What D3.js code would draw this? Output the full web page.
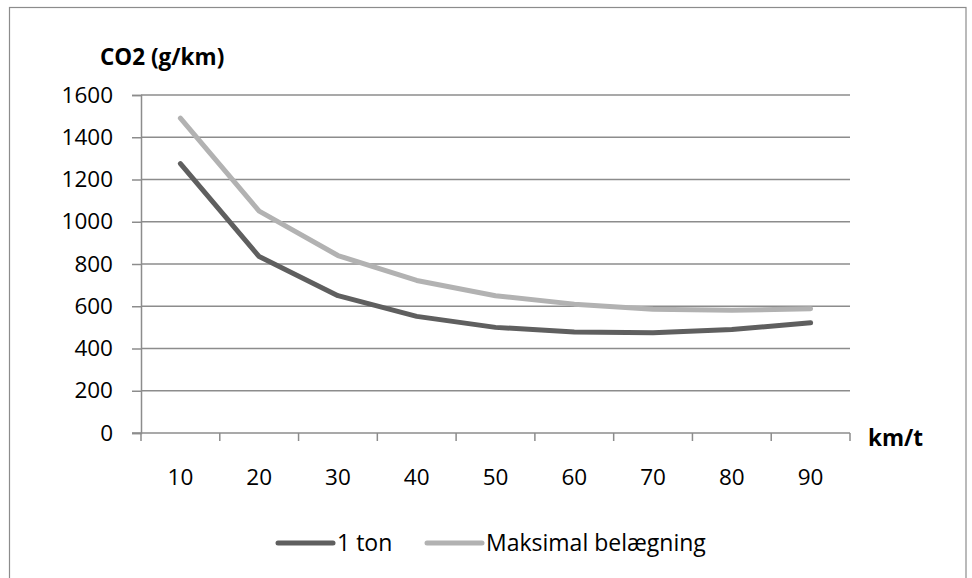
<!DOCTYPE html>
<html>
<head>
<meta charset="utf-8">
<script src="https://cdn.jsdelivr.net/npm/d3@7"></script>
<style>
  body { margin: 0; background: #fff; }
  svg { display: block; }
</style>
</head>
<body>
<svg id="chart" width="972" height="578"></svg>
<script>
const speeds = ['10', '20', '30', '40', '50', '60', '70', '80', '90'];
const oneTon = [1275, 835, 650, 552, 500, 478, 474, 490, 522];
const maxLoad = [1490, 1050, 840, 722, 650, 610, 586, 581, 588];
const yTicks = [0, 200, 400, 600, 800, 1000, 1200, 1400, 1600];
const seriesNames = ['1 ton', 'Maksimal belægning'];
const seriesColors = ['#5f5f5f', '#b2b2b2'];

const FONT = "'Open Sans', sans-serif";

// small stand-in for d3-selection-multi
d3.selection.prototype.attrs = function (obj) {
  for (const k in obj) this.attr(k, obj[k]);
  return this;
};

main();

function main () {
  const svg = d3.select('#chart');
  const plot = { left: 141, right: 850, top: 95, bottom: 433 };

  const x = d3.scaleBand().domain(speeds).range([plot.left, plot.right]);
  const y = d3.scaleLinear().domain([0, 1600]).range([plot.bottom, plot.top]);

  // outer frame
  svg.append('rect').attrs({
    x: 9.5, y: 7.5, width: 956.5, height: 590,
    fill: 'none', stroke: '#8c8c8c', 'stroke-width': 1.2
  });

  drawGrid(svg, x, y, plot);
  drawAxes(svg, x, y, plot);
  drawLines(svg, x, y, [oneTon, maxLoad]);
  drawLegend(svg);
}

function drawGrid (svg, x, y, plot) {
  svg.append('g').selectAll('line').data(yTicks.filter(d => d > 0)).join('line').attrs({
    x1: plot.left, x2: plot.right,
    y1: d => y(d), y2: d => y(d),
    stroke: '#8c8c8c', 'stroke-width': 1.5
  });
}

function drawAxes (svg, x, y, plot) {
  const yAxis = d3.axisLeft(y).tickValues(yTicks).tickFormat(d3.format('d'))
    .tickSize(9).tickPadding(19);
  const gy = svg.append('g').attr('transform', `translate(${plot.left},0)`).call(yAxis);
  gy.select('.domain').attrs({ stroke: '#8c8c8c', 'stroke-width': 1.5 });
  gy.selectAll('.tick line').attrs({ stroke: '#8c8c8c', 'stroke-width': 1.5 });
  gy.selectAll('.tick text').attrs({ 'font-family': FONT, 'font-size': '22.5px', fill: '#000' });

  // x axis ticks sit on band edges, labels in band centres
  const gx = svg.append('g');
  gx.append('line').attrs({
    x1: plot.left - 9, x2: plot.right, y1: plot.bottom, y2: plot.bottom,
    stroke: '#8c8c8c', 'stroke-width': 1.5
  });
  const edges = speeds.map(s => x(s)).concat([x(speeds[speeds.length - 1]) + x.bandwidth()]);
  gx.selectAll('line.tk').data(edges).join('line').attr('class', 'tk').attrs({
    x1: d => d, x2: d => d, y1: plot.bottom, y2: plot.bottom + 8,
    stroke: '#8c8c8c', 'stroke-width': 1.5
  });
  gx.selectAll('text').data(speeds).join('text').text(d => d).attrs({
    x: d => x(d) + x.bandwidth() / 2,
    y: 485,
    'text-anchor': 'middle',
    'font-family': FONT, 'font-size': '22.5px', fill: '#000'
  });

  svg.append('text').text('CO2 (g/km)').attrs({
    x: 100, y: 65,
    'font-family': FONT, 'font-size': '22.5px', 'font-weight': 700, fill: '#000'
  });
  svg.append('text').text('km/t').attrs({
    x: 868, y: 446,
    'font-family': FONT, 'font-size': '22.5px', 'font-weight': 700, fill: '#000'
  });
}

function drawLines (svg, x, y, series) {
  const line = d3.line()
    .x((d, i) => x(speeds[i]) + x.bandwidth() / 2)
    .y(d => y(d));
  series.forEach((values, i) => {
    svg.append('path').attrs({
      d: line(values),
      fill: 'none',
      stroke: seriesColors[i],
      'stroke-width': 5,
      'stroke-linejoin': 'round',
      'stroke-linecap': 'round'
    });
  });
}

function drawLegend (svg) {
  const items = [{ x: 278, textX: 337 }, { x: 427, textX: 486 }];
  items.forEach((it, i) => {
    svg.append('line').attrs({
      x1: it.x, x2: it.x + 55, y1: 543, y2: 543,
      stroke: seriesColors[i], 'stroke-width': 5, 'stroke-linecap': 'round'
    });
    svg.append('text').text(seriesNames[i]).attrs({
      x: it.textX, y: 551,
      'font-family': FONT, 'font-size': '23px', fill: '#000'
    });
  });
}
</script>
</body>
</html>
